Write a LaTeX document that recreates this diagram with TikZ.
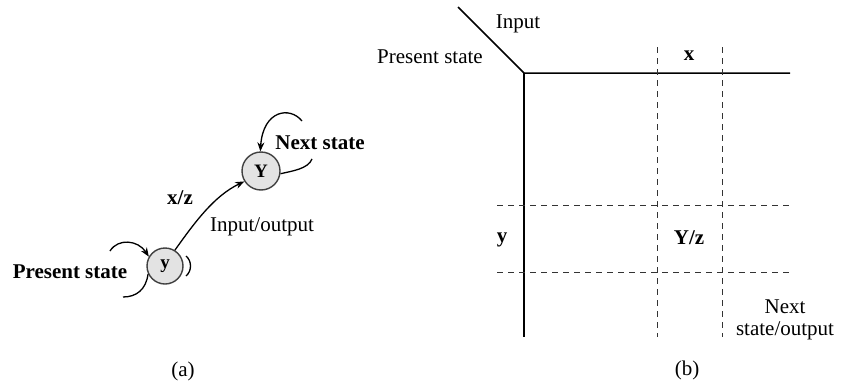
\documentclass[tikz,border=0pt]{standalone}
\usepackage{fontspec}
\setmainfont{Liberation Serif}
\usetikzlibrary{arrows.meta}
\begin{document}
\begin{tikzpicture}[x=1pt,y=-1pt,
  txt/.style={font=\fontsize{21}{22}\selectfont, inner sep=0pt},
  btxt/.style={font=\fontsize{21}{22}\selectfont\bfseries, inner sep=0pt},
  state/.style={circle, fill=gray!22, draw=black!75, line width=1.4pt, minimum size=36pt, inner sep=0pt, font=\fontsize{19}{20}\selectfont\bfseries},
  loop/.style={line width=1.3pt},
  arr/.style={line width=1.3pt, -{Stealth[length=9pt,width=7pt]}},
  solid line/.style={line width=1.5pt},
  dline/.style={line width=1pt, dash pattern=on 6pt off 5pt, black!80}]
\useasboundingbox (0,0) rectangle (842,380);
% ---------- (a) ----------
\node[state] (y) at (165,266) {y};
\node[state, minimum size=38pt] (Y) at (261,171) {Y};
\draw[arr] (y.58) .. controls (195,222) and (214,196) .. (Y.212);
\node[btxt] (xz) at (180,198) {x/z};
\node[txt] (io) at (262,227) {Input/output};
\node[btxt] (ps) at (70,272) {Present state};
\node[btxt] (ns) at (320,143) {Next state};
% loops of y
\coordinate (ya) at (110,251);
\coordinate (yb) at (123,297);
\coordinate (yc) at (186,256);
\coordinate (yd) at (186,276);
\draw[arr] (ya) .. controls (118,238) and (138,240) .. (y.150);
\draw[loop] (yb) .. controls (136,297) and (146,290) .. (y.205);
\draw[loop] (yc) .. controls (192,261) and (192,271) .. (yd);
% loops of Y
\coordinate (Ya) at (302,121);
\coordinate (Yb) at (312,159);
\draw[arr] (Ya) .. controls (290,106) and (263,110) .. (Y.92);
\draw[loop] (Yb) .. controls (308,169) and (292,171) .. (Y.352);
\node[txt] (la) at (183,371) {(a)};
% ---------- (b) ----------
\coordinate (c0) at (458,7);
\coordinate (c1) at (524,73);
\coordinate (c2) at (790,73);
\coordinate (c3) at (524,337);
\draw[solid line] (c0) -- (c1) -- (c2);
\draw[solid line] (c1) -- (c3);
\coordinate (v1t) at (657,47);
\coordinate (v1b) at (657,337);
\coordinate (v2t) at (722,47);
\coordinate (v2b) at (722,337);
\coordinate (h1l) at (497,205);
\coordinate (h1r) at (790,205);
\coordinate (h2l) at (497,272);
\coordinate (h2r) at (790,272);
\draw[dline] (v1t) -- (v1b);
\draw[dline] (v2t) -- (v2b);
\draw[dline] (h1l) -- (h1r);
\draw[dline] (h2l) -- (h2r);
\node[txt] (inp) at (518,24) {Input};
\node[txt] (pst) at (430,57) {Present state};
\node[btxt] (xl) at (689,56) {x};
\node[btxt] (yl) at (502,240) {y};
\node[btxt] (Yz) at (689,238) {Y/z};
\node[txt, align=center] (nso) at (785,320) {Next\\state/output};
\node[txt] (lb) at (687,370) {(b)};
\end{tikzpicture}
\end{document}
